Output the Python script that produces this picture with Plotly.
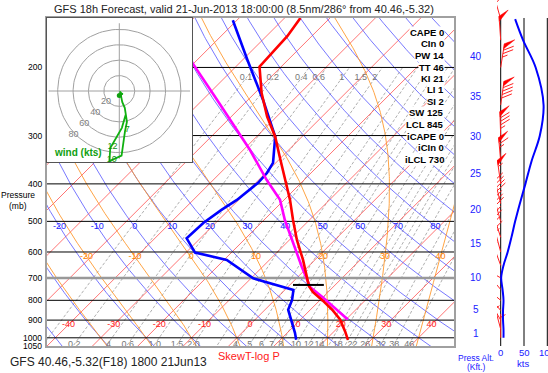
import numpy as np
import plotly.graph_objects as go

W, H = 548, 373

# ---------------- data ----------------
temp_p = [149, 166, 199, 233, 268, 302, 341, 391, 440, 496, 558, 629, 697, 734, 762, 798, 846, 897, 964, 1012]
temp_c = [-56.5, -55.4, -54.8, -48.5, -42.1, -35.9, -30.4, -24.2, -18.7, -13.6, -8.4, -2.6, 2.1, 4.4, 6.7,
          10.4, 14.8, 18.7, 22.5, 24.9]

dewp_p = [151, 191, 243, 302, 353, 375, 398, 419, 440, 467, 505, 553, 602, 629, 702, 752, 798, 846, 915, 971, 1012]
dewp_c = [-70.9, -59.0, -46.6, -35.9, -30.6, -29.7, -29.5, -30.0, -30.4, -31.6, -32.7, -33.0, -28.0, -19.4,
          -9.5, 1.9, 3.8, 5.1, 8.9, 11.7, 13.5]

parcel_p = [151, 195, 243, 280, 327, 391, 440, 496, 568, 656, 708, 739, 783, 846, 897]
parcel_c = [-84.4, -70.3, -56.7, -48.1, -38.5, -28.2, -20.9, -15.4, -8.6, -1.3, 2.7, 4.9, 9.7, 15.9, 20.4]

lcl_bar_p = 730
lcl_bar_t = [0.7, 7.5]

wind_p = [1000, 950, 900, 850, 800, 750, 700, 650, 600, 550, 500, 450, 400, 350, 300, 250, 200, 170, 150]
wind_spd = [6, 6, 5, 5, 6, 4, 1, 6, 15, 23, 31, 41, 53, 66, 84, 92, 75, 48, 31]
wind_dir = [360, 345, 330, 320, 310, 320, 300, 340, 345, 342, 344, 346, 352, 355, 358, 8, 9, 356, 344]

hodo_rings = [20, 40, 60, 80]
hodo_height_p = [400, 250, 200]
hodo_height_txt = ["7", "10", "12"]

index_labels = ["CAPE 0", "CIn 0", "PW 14", "TT 46", "KI 21", "LI 1", "SI 2", "SW 125",
                "LCL 845", "iCAPE 0", "iCIn 0", "iLCL 730"]
pressure_ticks = [200, 300, 400, 500, 600, 700, 800, 900, 1000, 1050]
pressure_lines = [200, 300, 400, 500, 600, 800, 900, 1000]
kft_levels = [1, 5, 10, 15, 20, 25, 30, 35, 40]
isotherms = list(range(-130, 60, 10))
isotherm_labels = [-40, -30, -20, -10, 0, 10, 20, 30, 40]
dry_thetas = list(range(-40, 180, 10))
dry_labels = [-20, -10, 0, 10, 20, 30, 40, 50, 60, 70, 80]
moist_thetas = [-30, -20, -10, 0, 10, 20, 30, 40, 50]
moist_labels = [-20, -10, 0, 10, 20, 30, 40]
mix_lines = [0.1, 0.2, 0.4, 0.6, 1, 1.5, 2, 3, 4, 5, 6, 7, 8, 10, 12, 14, 16, 18, 20, 22, 26, 32, 38, 46]
mix_bottom = [0.2, 0.4, 0.6, 1.0, 1.5, 2.0, 4, 5, 6, 7, 8, 10, 12, 14, 18, 22, 26, 32, 38, 46]
mix_bottom_txt = ["0.2", ".4", "0.6", "1.0", "1.5", "2.0", "4", "5", "6", "7", "8", "10", "12", "14",
                  "18", "22", "26", "32", "38", "46"]
mix_top = [0.1, 0.2, 0.4, 0.6, 1, 1.5, 2]
mix_top_txt = ["0.1", "0.2", "0.4", "0.6", "1", "1.5", "2"]

# ---------------- geometry ----------------
SKEW = 37.03          # deg C per ln(p) of skew
PREF = 925.0
PXC = 4.54            # px per deg C
PXLN = 168.1          # px per ln p
MAIN_L, MAIN_R, TOP, BOT = 47, 454, 18, 346
P_TOP = 400 * np.exp((TOP - 184) / PXLN)
P_BOT = 1050
WIND_X0, KX = 500.7, 0.466
HC_X, HC_Y, HK = 119.3, 91.0, 0.77


def skx(t, p):
    return np.asarray(t, float) + SKEW * np.log(PREF / np.asarray(p, float))


def es(tc):
    return 6.112 * np.exp(17.67 * tc / (tc + 243.5))


def td_from_w(w, p):
    e = w * p / (622.0 + w)
    l = np.log(e / 6.112)
    return 243.5 * l / (17.67 - l)


Rd, Cp, Lv, EPS = 287.04, 1005.7, 2.501e6, 0.622


def dT_dlnp(tk, p):
    e = es(tk - 273.15)
    rs = EPS * e / (p - e)
    return (Rd * tk + Lv * rs) / (Cp + Lv * Lv * rs * EPS / (Rd * tk * tk))


def moist_line(t0):
    """pseudo-adiabat through t0 (deg C) at 1000 hPa; returns ascending pressures and temperatures"""
    up_p, up_t, dn_p, dn_t = [], [], [], []
    for direction, pend in ((-1, 140.0), (1, 1070.0)):
        tk, lp = t0 + 273.15, np.log(1000.0)
        h = 0.01 * direction
        while (direction < 0 and np.exp(lp) > pend) or (direction > 0 and np.exp(lp) < pend):
            k1 = dT_dlnp(tk, np.exp(lp))
            k2 = dT_dlnp(tk + 0.5 * h * k1, np.exp(lp + 0.5 * h))
            tk += h * k2
            lp += h
            if direction < 0:
                up_p.append(np.exp(lp)); up_t.append(tk)
            else:
                dn_p.append(np.exp(lp)); dn_t.append(tk)
    ps = up_p[::-1] + [1000.0] + dn_p
    ts = up_t[::-1] + [t0 + 273.15] + dn_t
    return np.array(ps), np.array(ts) - 273.15


pgrid = np.geomspace(1070, 135, 160)

fig = go.Figure()


def add_family(xs_list, ps_list, color, width, dash=None):
    X, Y = [], []
    for xs, ps in zip(xs_list, ps_list):
        X += list(xs) + [None]; Y += list(ps) + [None]
    fig.add_trace(go.Scatter(x=X, y=Y, mode="lines", line=dict(color=color, width=width, dash=dash),
                             hoverinfo="skip", showlegend=False, xaxis="x", yaxis="y"))


# mixing ratio
mp = np.geomspace(1070, 200, 60)
add_family([skx(td_from_w(w, mp), mp) for w in mix_lines], [mp] * len(mix_lines), "#9a9a9a", 0.8, "3px,2px")
# isotherms
add_family([skx(np.full_like(pgrid, t), pgrid) for t in isotherms], [pgrid] * len(isotherms), "#ff5050", 0.8)
# dry adiabats
add_family([skx((th + 273.15) * (pgrid / 1000.0) ** 0.2857 - 273.15, pgrid) for th in dry_thetas],
           [pgrid] * len(dry_thetas), "#5555ff", 0.8)
# moist adiabats
moist = {tw: moist_line(tw) for tw in moist_thetas}
add_family([skx(moist[tw][1], moist[tw][0]) for tw in moist_thetas],
           [moist[tw][0] for tw in moist_thetas], "#ff9a30", 0.9)

# pressure lines
PX, PY = [], []
xl, xr = (MAIN_L - 250) / PXC, (MAIN_R - 250) / PXC
for p in pressure_lines:
    PX += [xl, xr, None]; PY += [p, p, None]
fig.add_trace(go.Scatter(x=PX, y=PY, mode="lines", line=dict(color="#000000", width=1),
                         hoverinfo="skip", showlegend=False))
fig.add_trace(go.Scatter(x=[xl, xr], y=[700, 700], mode="lines", line=dict(color="#999999", width=2.5),
                         hoverinfo="skip", showlegend=False))

# labels of background lines
fig.add_trace(go.Scatter(x=skx(isotherm_labels, [925] * len(isotherm_labels)), y=[925] * len(isotherm_labels),
                         mode="text", text=[str(v) for v in isotherm_labels],
                         textfont=dict(color="#ff2020", size=9, family="Liberation Sans"),
                         hoverinfo="skip", showlegend=False))
pl = 517.0
dl_t = [(th + 273.15) * (pl / 1000.0) ** 0.2857 - 273.15 for th in dry_labels]
fig.add_trace(go.Scatter(x=skx(dl_t, [pl] * len(dry_labels)), y=[pl] * len(dry_labels), mode="text",
                         text=[str(v) for v in dry_labels],
                         textfont=dict(color="#2020ff", size=9, family="Liberation Sans"),
                         hoverinfo="skip", showlegend=False))
pm = 617.0
ml_t = [float(np.interp(np.log(pm), np.log(moist[tw][0]), moist[tw][1])) for tw in moist_labels]
fig.add_trace(go.Scatter(x=skx(ml_t, [pm] * len(moist_labels)), y=[pm] * len(moist_labels), mode="text",
                         text=[str(v) for v in moist_labels],
                         textfont=dict(color="#ff8000", size=9, family="Liberation Sans"),
                         hoverinfo="skip", showlegend=False))
pb = 1040.0
fig.add_trace(go.Scatter(x=skx([td_from_w(w, pb) for w in mix_bottom], [pb] * len(mix_bottom)),
                         y=[pb] * len(mix_bottom), mode="text", text=mix_bottom_txt,
                         textfont=dict(color="#777777", size=9, family="Liberation Sans"),
                         hoverinfo="skip", showlegend=False))
pt_ = 213.0
fig.add_trace(go.Scatter(x=skx([td_from_w(w, pt_) for w in mix_top], [pt_] * len(mix_top)),
                         y=[pt_] * len(mix_top), mode="text", text=mix_top_txt,
                         textfont=dict(color="#777777", size=9, family="Liberation Sans"),
                         hoverinfo="skip", showlegend=False))

# ---------- profiles ----------
fig.add_trace(go.Scatter(x=skx(dewp_c, dewp_p), y=dewp_p, mode="lines", line=dict(color="#0000ff", width=2.6),
                         hoverinfo="skip", showlegend=False))
fig.add_trace(go.Scatter(x=skx(parcel_c, parcel_p), y=parcel_p, mode="lines",
                         line=dict(color="#ff00ff", width=2.6), hoverinfo="skip", showlegend=False))
fig.add_trace(go.Scatter(x=skx(temp_c, temp_p), y=temp_p, mode="lines", line=dict(color="#ff0000", width=2.6),
                         hoverinfo="skip", showlegend=False))
fig.add_trace(go.Scatter(x=skx(lcl_bar_t, [lcl_bar_p] * 2), y=[lcl_bar_p] * 2, mode="lines",
                         line=dict(color="#000000", width=2), hoverinfo="skip", showlegend=False))

# ---------- wind panel ----------
VX, VY = [], []
for k in (0, 50, 100):
    VX += [k, k, None]; VY += [P_BOT, P_TOP, None]
fig.add_trace(go.Scatter(x=VX, y=VY, mode="lines", line=dict(color="#000000", width=1), xaxis="x2", yaxis="y2",
                         hoverinfo="skip", showlegend=False))

bx, by, fx, fy = [], [], [], []
for p, s, d in zip(wind_p, wind_spd, wind_dir):
    th = np.radians(d)
    ux, uy = np.sin(th), np.cos(th)
    a = np.radians(60)
    vx, vy = ux * np.cos(a) + uy * np.sin(a), -ux * np.sin(a) + uy * np.cos(a)

    def pt(dx, dy, p=p):
        return dx / KX, p * np.exp(-dy / PXLN)

    L, fl, sp, pw = 24, 11, 3.5, 5
    a0, a1 = pt(0, 0), pt(ux * L, uy * L)
    bx += [a0[0], a1[0], None]; by += [a0[1], a1[1], None]
    s5 = int(5 * round(s / 5))
    n50, rem = divmod(s5, 50)
    n10, rem = divmod(rem, 10)
    n5 = rem // 5
    pos = L
    for _ in range(n50):
        q1 = pt(ux * pos, uy * pos)
        q2 = pt(ux * (pos - pw), uy * (pos - pw))
        q3 = pt(ux * pos + vx * fl, uy * pos + vy * fl)
        fx += [q1[0], q3[0], q2[0], q1[0], None]; fy += [q1[1], q3[1], q2[1], q1[1], None]
        pos -= pw + 1.5
    for _ in range(n10):
        q1 = pt(ux * pos, uy * pos); q2 = pt(ux * pos + vx * fl, uy * pos + vy * fl)
        bx += [q1[0], q2[0], None]; by += [q1[1], q2[1], None]
        pos -= sp
    if n5:
        if n50 == 0 and n10 == 0:
            pos -= sp
        q1 = pt(ux * pos, uy * pos); q2 = pt(ux * pos + vx * fl / 2, uy * pos + vy * fl / 2)
        bx += [q1[0], q2[0], None]; by += [q1[1], q2[1], None]

fig.add_trace(go.Scatter(x=bx, y=by, mode="lines", line=dict(color="#ff2020", width=1), xaxis="x2", yaxis="y2",
                         hoverinfo="skip", showlegend=False))
fig.add_trace(go.Scatter(x=fx, y=fy, mode="lines", fill="toself", fillcolor="#ff0000",
                         line=dict(color="#ff0000", width=0.5), xaxis="x2", yaxis="y2",
                         hoverinfo="skip", showlegend=False))
fig.add_trace(go.Scatter(x=wind_spd, y=wind_p, mode="lines", line=dict(color="#0000ff", width=2, shape="spline"),
                         xaxis="x2", yaxis="y2", hoverinfo="skip", showlegend=False))

# ---------- hodograph ----------
hx0, hx1 = (MAIN_L - HC_X) / HK, (192 - HC_X) / HK
hy0, hy1 = -(162 - HC_Y) / HK, (HC_Y - TOP) / HK
fig.add_trace(go.Scatter(x=[hx0, hx1, hx1, hx0, hx0], y=[hy0, hy0, hy1, hy1, hy0], mode="lines", fill="toself",
                         fillcolor="#ffffff", line=dict(width=0), xaxis="x3", yaxis="y3",
                         hoverinfo="skip", showlegend=False))
ang = np.linspace(0, 2 * np.pi, 120)
RX, RY = [], []
for r in hodo_rings:
    RX += list(r * np.cos(ang)) + [None]; RY += list(r * np.sin(ang)) + [None]
RX += [-92, 92, None, 0, 0]; RY += [0, 0, None, -88, 88]
fig.add_trace(go.Scatter(x=RX, y=RY, mode="lines", line=dict(color="#a0a0a0", width=1), xaxis="x3", yaxis="y3",
                         hoverinfo="skip", showlegend=False))
c225 = np.cos(np.radians(225))
fig.add_trace(go.Scatter(x=[r * c225 - 3 for r in hodo_rings], y=[r * c225 for r in hodo_rings], mode="text",
                         text=[str(r) for r in hodo_rings],
                         textfont=dict(color="#808080", size=9, family="Liberation Sans"),
                         xaxis="x3", yaxis="y3", hoverinfo="skip", showlegend=False))
hu = [-s * np.sin(np.radians(d)) for s, d in zip(wind_spd, wind_dir)]
hv = [-s * np.cos(np.radians(d)) for s, d in zip(wind_spd, wind_dir)]
fig.add_trace(go.Scatter(x=hu, y=hv, mode="lines", line=dict(color="#10b010", width=1.8), xaxis="x3", yaxis="y3",
                         hoverinfo="skip", showlegend=False))
fig.add_trace(go.Scatter(x=[hu[0]], y=[hv[0]], mode="markers", marker=dict(color="#10a010", size=5),
                         xaxis="x3", yaxis="y3", hoverinfo="skip", showlegend=False))
idx = [wind_p.index(p) for p in hodo_height_p]
fig.add_trace(go.Scatter(x=[hu[i] + 3 for i in idx], y=[hv[i] + 2 for i in idx], mode="text",
                         text=hodo_height_txt, textfont=dict(color="#109010", size=9, family="Liberation Sans"),
                         xaxis="x3", yaxis="y3", hoverinfo="skip", showlegend=False))

# ---------- annotations ----------
ann = []
FONT = "Liberation Sans"


def A(text, x, y, size=10, color="#000000", xanchor="center", bold=False, bg=None, xref="paper", yref="paper"):
    d = dict(text=("<b>%s</b>" % text) if bold else text, x=x, y=y, xref=xref, yref=yref, showarrow=False,
             xanchor=xanchor, yanchor="middle", font=dict(size=size, color=color, family=FONT), borderpad=0)
    if bg:
        d["bgcolor"] = bg
    ann.append(d)


A("GFS 18h Forecast, valid 21-Jun-2013 18:00:00 (8.5nm/286° from 40.46,-5.32)", 244 / W, 1 - 9 / H, 11, "#222222")
A("GFS 40.46,-5.32(F18) 1800 21Jun13", 9 / W, 1 - 362 / H, 12, "#222222", "left")
A("SkewT-log P", 249 / W, 1 - 356 / H, 11, "#ff2020")
A("Press Alt.", 476 / W, 1 - 358 / H, 8.5, "#2020ff")
A("(Kft.)", 476 / W, 1 - 367 / H, 8.5, "#2020ff")
A("kts", 523 / W, 1 - 363 / H, 9.5, "#2020ff")
for k in (0, 50, 100):
    A(str(k), k, 1 - 352 / H, 9.5, "#2020ff", xref="x2")
A("Pressure", 18 / W, 1 - 195 / H, 8.5)
A("(mb)", 18 / W, 1 - 206 / H, 8.5)
for p in pressure_ticks:
    A(str(p), 43 / W, np.log10(p), 8.5, xanchor="right", yref="y")
for i, t in enumerate(index_labels):
    A(t, 445 / W, 1 - (32.5 + 11.5 * i) / H, 9.5, bold=True, xanchor="right", bg="#ffffff")
A("wind (kts)", 78 / W, 1 - 152 / H, 10, "#10a010", bold=True)

shapes = []
for h in kft_levels:
    pk = 1013.25 * (1 - 6.8756e-6 * h * 1000) ** 5.2559
    shapes.append(dict(type="line", xref="paper", yref="y", x0=MAIN_L / W, x1=1, y0=np.log10(pk), y1=np.log10(pk),
                       line=dict(color="#6060ff", width=1.5), layer="below"))
    A(str(h), 476 / W, np.log10(pk), 10, "#2020ff", yref="y", bg="#ffffff")

fig.update_layout(
    width=W, height=H, autosize=False, margin=dict(l=0, r=0, t=0, b=0),
    paper_bgcolor="#ffffff", plot_bgcolor="#ffffff", showlegend=False,
    annotations=ann, shapes=shapes,
    xaxis=dict(domain=[MAIN_L / W, MAIN_R / W], range=[(MAIN_L - 250) / PXC, (MAIN_R - 250) / PXC],
               showgrid=False, zeroline=False, showticklabels=False, ticks="", showline=True, mirror=True,
               linecolor="#a0a0a0", linewidth=1.5),
    yaxis=dict(domain=[1 - BOT / H, 1 - TOP / H], type="log", range=[np.log10(P_BOT), np.log10(P_TOP)],
               showgrid=False, zeroline=False, showticklabels=False, ticks="", showline=True, mirror=True,
               linecolor="#a0a0a0", linewidth=1.5),
    xaxis2=dict(domain=[497 / W, 1], range=[(497 - WIND_X0) / KX, (W - WIND_X0) / KX], anchor="y2",
                showgrid=False, zeroline=False, showticklabels=False, ticks="", showline=False),
    yaxis2=dict(domain=[1 - BOT / H, 1], type="log", anchor="x2",
                range=[np.log10(P_BOT), np.log10(400 * np.exp(-184 / PXLN))],
                showgrid=False, zeroline=False, showticklabels=False, ticks="", showline=False),
    xaxis3=dict(domain=[MAIN_L / W, 192 / W], range=[hx0, hx1], anchor="y3", showgrid=False, zeroline=False,
                showticklabels=False, ticks="", showline=True, mirror=True, linecolor="#555555", linewidth=1),
    yaxis3=dict(domain=[1 - 162 / H, 1 - TOP / H], range=[hy0, hy1], anchor="x3", showgrid=False, zeroline=False,
                showticklabels=False, ticks="", showline=True, mirror=True, linecolor="#555555", linewidth=1),
)

fig.write_html("out.html", config={"displayModeBar": False}, post_script="document.body.style.margin='0';")
